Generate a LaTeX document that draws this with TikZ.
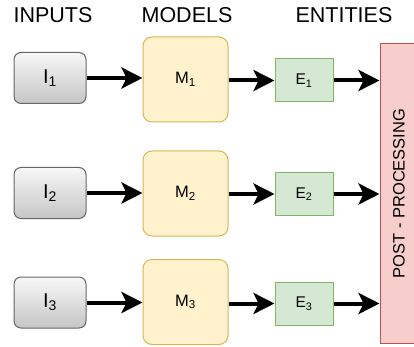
\documentclass[tikz,border=0pt]{standalone}
\usepackage{xcolor}
\usepackage{fontspec}
\setmainfont{Liberation Sans}
\usetikzlibrary{arrows.meta}

\definecolor{inborder}{HTML}{666666}
\definecolor{modfill}{HTML}{FFF2CC}
\definecolor{modborder}{HTML}{D6B656}
\definecolor{entfill}{HTML}{D5E8D4}
\definecolor{entborder}{HTML}{82B366}
\definecolor{postfill}{HTML}{F8CECC}
\definecolor{postborder}{HTML}{B85450}

\tikzset{
  inbox/.style={draw=inborder, line width=1pt, rounded corners=7pt, top color=gray!6, bottom color=gray!45,
    minimum width=72pt, minimum height=51pt, inner sep=0pt, font=\fontsize{20}{22}\selectfont},
  modbox/.style={draw=modborder, line width=1pt, fill=modfill, rounded corners=9pt,
    minimum width=85pt, minimum height=85pt, inner sep=0pt, font=\fontsize{16.5}{18}\selectfont},
  entbox/.style={draw=entborder, line width=1pt, fill=entfill,
    minimum width=58pt, minimum height=43pt, inner sep=0pt, font=\fontsize{15.5}{17}\selectfont},
  header/.style={font=\fontsize{21.5}{23}\selectfont},
  flow/.style={line width=4pt, -{Stealth[length=21pt, width=21pt, inset=5pt]}}
}

\begin{document}
\begin{tikzpicture}[x=1pt, y=-1pt]
\useasboundingbox (0,0) rectangle (414,347);

\node[header] (hin) at (53,15) {INPUTS};
\node[header] (hmod) at (187,15) {MODELS};
\node[header] (hent) at (344,15) {ENTITIES};

\node[inbox] (i1) at (50,78) {I\textsubscript{1}};
\node[inbox] (i2) at (50,193) {I\textsubscript{2}};
\node[inbox] (i3) at (50,302.5) {I\textsubscript{3}};

\node[modbox] (m1) at (185.5,79.5) {M\textsubscript{1}};
\node[modbox] (m2) at (185.5,193.5) {M\textsubscript{2}};
\node[modbox] (m3) at (185.5,302) {M\textsubscript{3}};

\node[entbox] (e1) at (304,80.5) {E\textsubscript{1}};
\node[entbox] (e2) at (304,194) {E\textsubscript{2}};
\node[entbox] (e3) at (304,303.5) {E\textsubscript{3}};

\node[draw=postborder, line width=1pt, fill=postfill, minimum width=38pt, minimum height=299pt, inner sep=0pt,
  font=\fontsize{16.5}{18}\selectfont] (post) at (399,193.5) {\rotatebox{90}{POST - PROCESSING}};

\draw[flow] (i1) -- (m1.west |- i1);
\draw[flow] (i2) -- (m2.west |- i2);
\draw[flow] (i3) -- (m3.west |- i3);

\draw[flow] (m1.east |- e1) -- (e1);
\draw[flow] (m2.east |- e2) -- (e2);
\draw[flow] (m3.east |- e3) -- (e3);

\draw[flow] (e1) -- (post.west |- e1);
\draw[flow] (e2) -- (post.west |- e2);
\draw[flow] (e3) -- (post.west |- e3);
\end{tikzpicture}
\end{document}
